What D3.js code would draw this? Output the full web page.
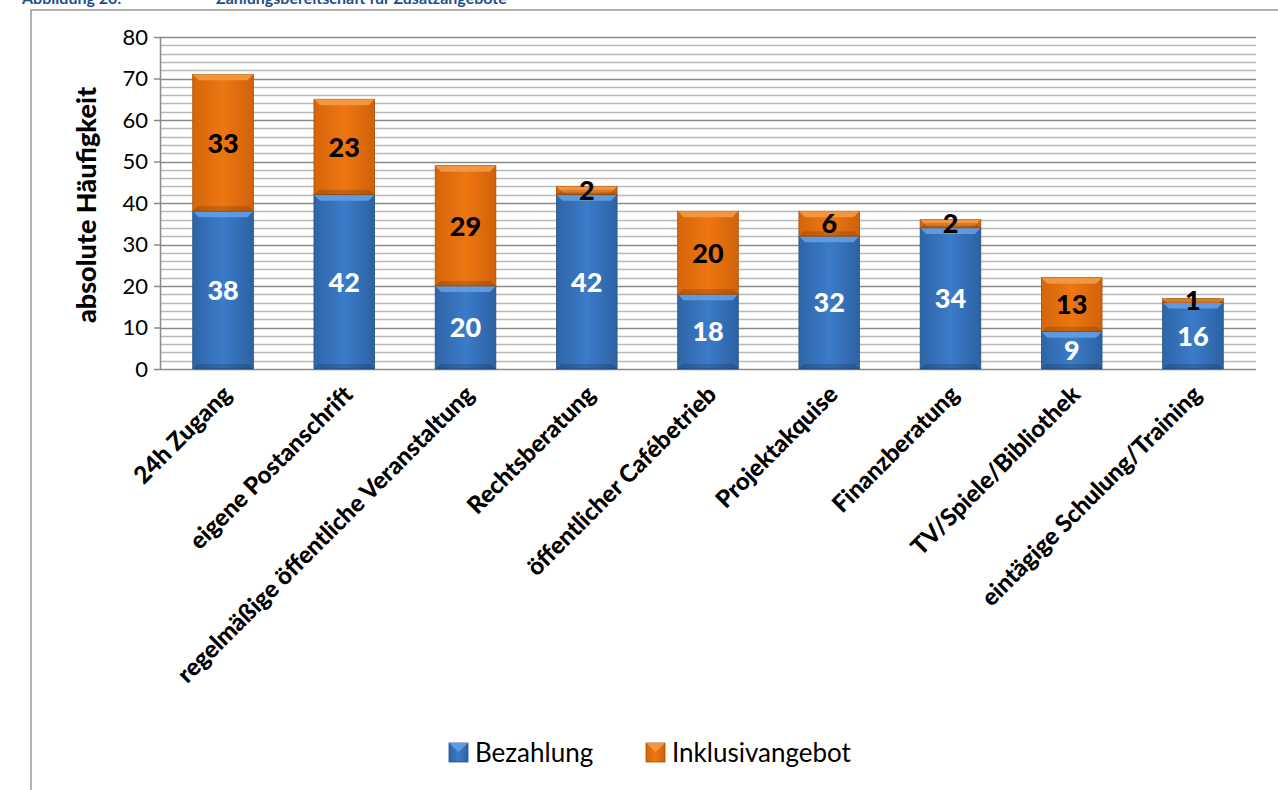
<!DOCTYPE html>
<html>
<meta charset="utf-8">
<head>
<style>
body { margin: 0; background: #fff; }
svg text { font-family: Lato, "Open Sans", sans-serif; }
</style>
</head>
<body>
<svg width="1278" height="790"></svg>
<script src="https://cdn.jsdelivr.net/npm/d3@7"></script>
<script>

var categories = ["24h Zugang", "eigene Postanschrift", "regelmäßige öffentliche Veranstaltung",
  "Rechtsberatung", "öffentlicher Cafébetrieb", "Projektakquise", "Finanzberatung",
  "TV/Spiele/Bibliothek", "eintägige Schulung/Training"];
var bezahlung = [38, 42, 20, 42, 18, 32, 34, 9, 16];
var inklusiv = [33, 23, 29, 2, 20, 6, 2, 13, 1];
var seriesNames = ["Bezahlung", "Inklusivangebot"];
var yTicks = [0, 10, 20, 30, 40, 50, 60, 70, 80];

var svg = d3.select("svg");

var pLeft = 160, pRight = 1256, pTop = 37, pBottom = 369;

var x = d3.scaleBand().domain(categories).range([pLeft, pRight]).paddingInner(0.5).paddingOuter(0.27);
var y = d3.scaleLinear().domain([0, 80]).range([pBottom, pTop]);

// gradients
var defs = svg.append("defs");
function grad(id, c1, c2, c3) {
  var g = defs.append("linearGradient").attr("id", id).attr("x1", 0).attr("x2", 1).attr("y1", 0).attr("y2", 0);
  g.append("stop").attr("offset", "0%").attr("stop-color", c1);
  g.append("stop").attr("offset", "50%").attr("stop-color", c2);
  g.append("stop").attr("offset", "100%").attr("stop-color", c3);
}
grad("gBlue", "#2f65a8", "#3b7bc8", "#2d62a4");
grad("gOrange", "#d4660a", "#ee7611", "#d0620a");

// title (cut off at top)
svg.append("text").attr("x", 22).attr("y", 4).attr("fill", "#1f4e8c")
  .style("font-weight", "bold").style("font-size", "16px").text("Abbildung 20:");
svg.append("text").attr("x", 216).attr("y", 4).attr("fill", "#1f4e8c")
  .style("font-weight", "bold").style("font-size", "16px").text("Zahlungsbereitschaft für Zusatzangebote");

// frame
svg.append("path").attr("d", "M31,790 L31,10 L1290,10").attr("fill", "none")
  .attr("stroke", "#999").attr("stroke-width", 1.5);

// grid
var minor = d3.range(0, 81, 2);
svg.append("g").selectAll("line").data(minor).enter().append("line")
  .attr("x1", pLeft).attr("x2", pRight)
  .attr("y1", function(d) { return Math.round(y(d)) + 0.5; })
  .attr("y2", function(d) { return Math.round(y(d)) + 0.5; })
  .attr("stroke", function(d) { return d % 10 === 0 ? "#8a8a8a" : "#b8b8b8"; })
  .attr("stroke-width", 1.5);

// y axis
svg.append("line").attr("x1", pLeft + 0.5).attr("x2", pLeft + 0.5).attr("y1", pTop).attr("y2", pBottom)
  .attr("stroke", "#8a8a8a").attr("stroke-width", 1.5);
var yAxis = svg.append("g").attr("transform", "translate(" + pLeft + ",0)")
  .call(d3.axisLeft(y).tickValues(yTicks).tickSize(6).tickPadding(6));
yAxis.select(".domain").remove();
yAxis.selectAll(".tick line").attr("stroke", "#8a8a8a").attr("stroke-width", 1.5);
yAxis.selectAll(".tick text").style("font-size", "22px").attr("fill", "#000");

svg.append("text").attr("transform", "translate(96,205) rotate(-90)")
  .attr("text-anchor", "middle").style("font-size", "27px").style("font-weight", "900")
  .text("absolute Häufigkeit");

// bars
var stacked = categories.map(function(c, i) {
  return [{ c: c, y0: 0, y1: bezahlung[i], v: bezahlung[i], s: 0 },
          { c: c, y0: bezahlung[i], y1: bezahlung[i] + inklusiv[i], v: inklusiv[i], s: 1 }];
});
var segs = [].concat.apply([], stacked);
var fills = ["url(#gBlue)", "url(#gOrange)"];
var bevel = ["#5fa0e6", "#f59a45"];
var edge = ["#23507f", "#a64c06"];

var bars = svg.append("g").selectAll("g").data(segs).enter().append("g");
bars.append("rect")
  .attr("x", function(d) { return x(d.c); })
  .attr("y", function(d) { return y(d.y1); })
  .attr("width", x.bandwidth())
  .attr("height", function(d) { return y(d.y0) - y(d.y1); })
  .attr("fill", function(d) { return fills[d.s]; })
  .attr("stroke", function(d) { return edge[d.s]; }).attr("stroke-width", 0.8);
// top bevel
bars.append("path")
  .attr("d", function(d) {
    var x0 = x(d.c), w = x.bandwidth(), t = y(d.y1), h = Math.min(6, y(d.y0) - y(d.y1));
    return "M" + x0 + "," + t + " L" + (x0 + w) + "," + t + " L" + (x0 + w - h) + "," + (t + h) +
      " L" + (x0 + h) + "," + (t + h) + "Z";
  })
  .attr("fill", function(d) { return bevel[d.s]; }).attr("opacity", 0.9);
// bottom shade
bars.append("path")
  .attr("d", function(d) {
    var x0 = x(d.c), w = x.bandwidth(), b = y(d.y0), h = Math.min(5, y(d.y0) - y(d.y1));
    return "M" + x0 + "," + b + " L" + (x0 + w) + "," + b + " L" + (x0 + w - h) + "," + (b - h) +
      " L" + (x0 + h) + "," + (b - h) + "Z";
  })
  .attr("fill", "#000").attr("opacity", 0.15);

// labels
bars.append("text")
  .attr("x", function(d) { return x(d.c) + x.bandwidth() / 2; })
  .attr("y", function(d) { return (y(d.y0) + y(d.y1)) / 2; })
  .attr("dy", "0.36em")
  .attr("text-anchor", "middle")
  .style("font-size", "27px").style("font-weight", "900")
  .attr("fill", function(d) { return d.s === 0 ? "#fff" : "#000"; })
  .text(function(d) { return d.v; });

// x labels
svg.append("g").selectAll("text").data(categories).enter().append("text")
  .attr("transform", function(d) {
    return "translate(" + (x(d) + x.bandwidth() / 2 + 10) + ",396) rotate(-45)";
  })
  .attr("text-anchor", "end")
  .style("font-size", "24px").style("font-weight", "900")
  .text(function(d) { return d; });

// legend
var legend = svg.append("g").attr("transform", "translate(449,743)");
var lx = [0, 197];
seriesNames.forEach(function(n, i) {
  var g = legend.append("g").attr("transform", "translate(" + lx[i] + ",0)");
  g.append("rect").attr("width", 19).attr("height", 19).attr("fill", fills[i])
    .attr("stroke", edge[i]).attr("stroke-width", 0.8);
  g.append("path").attr("d", "M0,0 L19,0 L9.5,9 Z").attr("fill", bevel[i]).attr("opacity", 0.9);
  g.append("text").attr("x", 26).attr("y", 10).attr("dy", "0.36em")
    .style("font-size", "26px").text(n);
});

</script>
</body>
</html>
